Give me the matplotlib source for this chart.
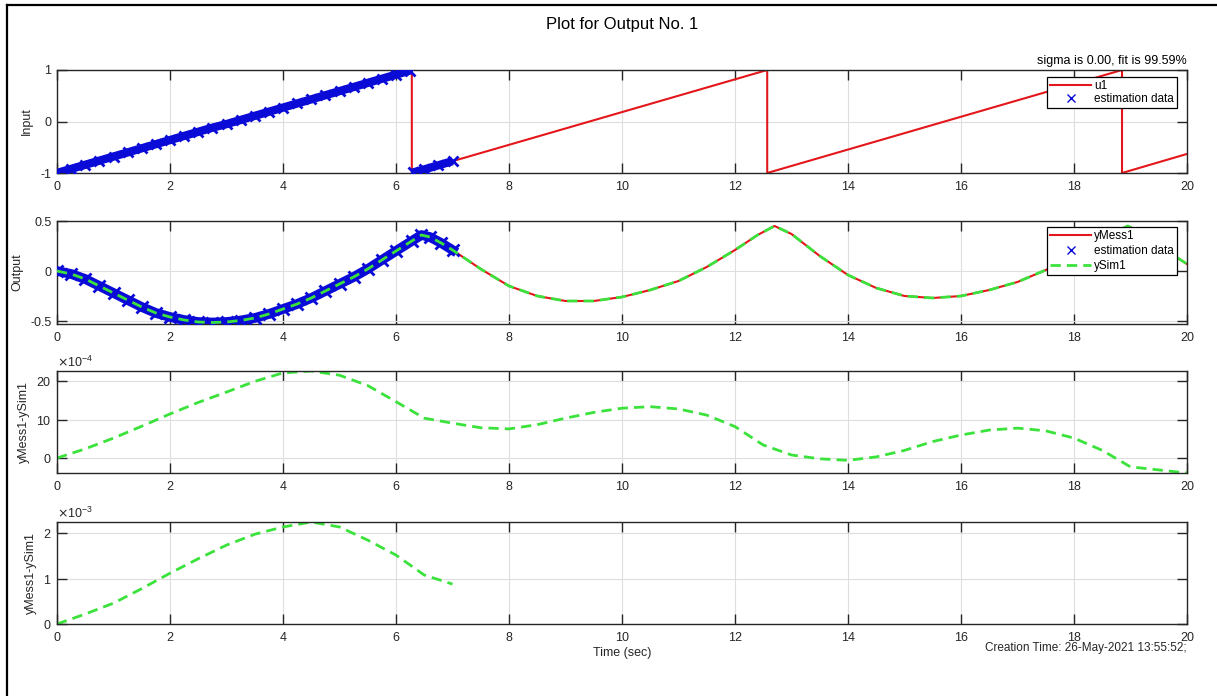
import numpy as np
import matplotlib.pyplot as plt
from matplotlib.lines import Line2D

plt.rcParams['font.family'] = ['Liberation Sans', 'DejaVu Sans']
plt.rcParams['axes.unicode_minus'] = False

# input sawtooth (breakpoints)
inp_t = [0, 6.28, 6.28, 12.57, 12.57, 18.85, 18.85, 20]
inp_u = [-1, 1, -1, 1, -1, 1, -1, -0.63]

# estimation data samples on the input (t <= 7)
est_t = [0, 0.25, 0.5, 0.75, 1, 1.25, 1.5, 1.75, 2, 2.25, 2.5, 2.75, 3, 3.25,
         3.5, 3.75, 4, 4.25, 4.5, 4.75, 5, 5.25, 5.5, 5.75, 6, 6.25,
         6.3, 6.5, 6.75, 7]
est_u = [-1, -0.92, -0.84, -0.76, -0.68, -0.6, -0.52, -0.44, -0.36, -0.28,
         -0.2, -0.12, -0.05, 0.03, 0.11, 0.19, 0.27, 0.35, 0.43, 0.51, 0.59,
         0.67, 0.75, 0.83, 0.91, 0.99, -0.99, -0.93, -0.85, -0.77]

# measured / simulated output
out_t = [0, 0.25, 0.5, 0.75, 1, 1.25, 1.5, 1.75, 2, 2.25, 2.5, 2.75, 3, 3.25,
         3.5, 3.75, 4, 4.25, 4.5, 4.75, 5, 5.25, 5.5, 5.75, 6, 6.28, 6.45,
         6.6, 6.8, 7, 7.5, 8, 8.5, 9, 9.5, 10, 10.5, 11, 11.5, 12, 12.4,
         12.7, 13, 13.5, 14, 14.5, 15, 15.5, 16, 16.5, 17, 17.5, 18, 18.5,
         18.95, 19.3, 19.7, 20]
y_mess = [0.0, -0.03, -0.08, -0.15, -0.22, -0.29, -0.36, -0.42, -0.46, -0.49,
          -0.51, -0.515, -0.51, -0.495, -0.47, -0.43, -0.38, -0.33, -0.27,
          -0.2, -0.13, -0.06, 0.02, 0.11, 0.2, 0.3, 0.36, 0.34, 0.28, 0.21,
          0.02, -0.15, -0.25, -0.3, -0.3, -0.26, -0.19, -0.1, 0.04, 0.21,
          0.36, 0.45, 0.37, 0.15, -0.04, -0.17, -0.25, -0.27, -0.25, -0.19,
          -0.11, 0.01, 0.15, 0.32, 0.45, 0.36, 0.18, 0.07]
y_sim = y_mess

# residuals, full range (x1e-4)
res_t = [0, 0.5, 1, 1.5, 2, 2.5, 3, 3.5, 4, 4.5, 5, 5.5, 6, 6.5, 7, 7.5, 8,
         8.5, 9, 9.5, 10, 10.5, 11, 11.5, 12, 12.5, 13, 13.5, 14, 14.5, 15,
         15.5, 16, 16.5, 17, 17.5, 18, 18.5, 19, 19.5, 20]
res = [0, 2.4, 5.2, 8.3, 11.5, 14.5, 17.2, 20.0, 22.2, 22.7, 21.6, 18.9, 14.7,
       10.4, 9.1, 7.9, 7.6, 8.7, 10.4, 11.9, 13.0, 13.4, 12.8, 11.2, 8.2, 3.4,
       0.8, -0.2, -0.6, 0.3, 2.0, 4.3, 6.0, 7.3, 7.8, 7.1, 5.2, 2.0, -2.3,
       -3.1, -3.9]
res = [r * 1e-4 for r in res]

# residuals, estimation data only (x1e-3)
res_est_t = [0, 0.5, 1, 1.5, 2, 2.5, 3, 3.5, 4, 4.5, 5, 5.5, 6, 6.5, 7]
res_est = [0, 0.22, 0.46, 0.78, 1.12, 1.44, 1.74, 1.98, 2.14, 2.25, 2.14,
           1.85, 1.52, 1.08, 0.88]
res_est = [r * 1e-3 for r in res_est]

xticks = list(range(0, 21, 2))

red = '#e3171b'
blue = '#0b0bd8'
green = '#3be23b'
dark = '#262626'

fig = plt.figure(figsize=(12.17, 6.96), dpi=100)
W, H = 1217, 696

def make_ax(top, bottom):
    ax = fig.add_axes([57 / W, 1 - bottom / H, 1130 / W, (bottom - top) / H])
    ax.set_xlim(0, 20)
    ax.set_xticks(xticks)
    ax.grid(True, color='#dedede', lw=0.8)
    ax.set_axisbelow(True)
    ax.tick_params(direction='in', length=7, width=1, top=True, right=True,
                   labelsize=9, labelcolor=dark, color=dark)
    ax.tick_params(axis='x', pad=6)
    ax.tick_params(axis='y', pad=4)
    for s in ax.spines.values():
        s.set_color(dark)
        s.set_linewidth(1)
    return ax

legend_kw = dict(loc='upper right', fontsize=8.5, frameon=True, fancybox=False,
                 framealpha=1, edgecolor='black', handlelength=3.4,
                 handletextpad=0.3, borderpad=0.25, borderaxespad=0)
dash = (0, (3.7, 2.2))

# panel 1: input
ax1 = make_ax(70, 173)
ax1.plot(inp_t, inp_u, color=red, lw=1.5, zorder=2)
k = int(np.argmin(np.diff(est_u))) + 1
for a, b in [(0, k), (k, len(est_t))]:
    ax1.plot(est_t[a:b], est_u[a:b], color=blue, lw=6, solid_capstyle='butt', zorder=3)
ax1.plot(est_t, est_u, 'x', color=blue, ms=7, mew=2, zorder=3)
ax1.set_ylim(-1, 1)
ax1.set_yticks([-1, 0, 1])
ax1.set_ylabel('Input', fontsize=9, color=dark)
ax1.yaxis.set_label_coords(-0.021, 0.5)
h1 = [Line2D([], [], color=red, lw=1.5),
      Line2D([], [], ls='none', marker='x', color=blue, ms=6, mew=1)]
lg = ax1.legend(h1, ['u1', 'estimation data'], bbox_to_anchor=(0.991, 0.935),
                labelspacing=0.12, **legend_kw)
lg.get_frame().set_linewidth(0.9)

# panel 2: output
ax2 = make_ax(221, 324)
ax2.plot(out_t, y_mess, color=red, lw=1.5, zorder=2)
n_est = sum(1 for t in out_t if t <= 7)
ax2.plot(out_t[:n_est], y_mess[:n_est], color=blue, lw=7, zorder=3)
ax2.plot(out_t[:n_est], y_mess[:n_est], 'x', color=blue, ms=8, mew=2, zorder=3)
ax2.plot(out_t, y_sim, color=green, lw=2, ls=dash, zorder=4)
ax2.set_ylim(-0.53, 0.5)
ax2.set_yticks([-0.5, 0, 0.5])
ax2.set_yticklabels(['-0.5', '0', '0.5'])
ax2.set_ylabel('Output', fontsize=9, color=dark)
ax2.yaxis.set_label_coords(-0.030, 0.5)
h2 = [Line2D([], [], color=red, lw=1.5),
      Line2D([], [], ls='none', marker='x', color=blue, ms=6, mew=1),
      Line2D([], [], color=green, lw=2, ls=dash)]
lg = ax2.legend(h2, ['yMess1', 'estimation data', 'ySim1'],
                bbox_to_anchor=(0.991, 0.94), labelspacing=0.25, **legend_kw)
lg.get_frame().set_linewidth(0.9)

# panel 3: residual full
ax3 = make_ax(371, 473)
ax3.plot(res_t, res, color=green, lw=2, ls=dash)
ax3.set_ylim(-3.9e-4, 22.7e-4)
ax3.set_yticks([0, 1e-3, 2e-3])
ax3.ticklabel_format(axis='y', style='sci', scilimits=(-4, -4), useMathText=True)
ax3.yaxis.get_offset_text().set_fontsize(9)
ax3.yaxis.get_offset_text().set_color(dark)
ax3.set_ylabel('yMess1-ySim1', fontsize=9, color=dark)
ax3.yaxis.set_label_coords(-0.024, 0.5)

# panel 4: residual estimation data
ax4 = make_ax(522, 624)
ax4.plot(res_est_t, res_est, color=green, lw=2, ls=dash)
ax4.set_ylim(0, 2.25e-3)
ax4.set_yticks([0, 1e-3, 2e-3])
ax4.ticklabel_format(axis='y', style='sci', scilimits=(-3, -3), useMathText=True)
ax4.yaxis.get_offset_text().set_fontsize(9)
ax4.yaxis.get_offset_text().set_color(dark)
ax4.set_ylabel('yMess1-ySim1', fontsize=9, color=dark)
ax4.yaxis.set_label_coords(-0.018, 0.5)

fig.text(622 / W, 1 - 25 / H, 'Plot for Output No. 1', ha='center', va='center',
         fontsize=12, color='black')
fig.text(1187 / W, 1 - 61 / H, 'sigma is 0.00, fit is 99.59%', ha='right',
         va='center', fontsize=9, color='black')
fig.text(622 / W, 1 - 653 / H, 'Time (sec)', ha='center', va='center',
         fontsize=9, color=dark)
fig.text(1187 / W, 1 - 648 / H, 'Creation Time: 26-May-2021 13:55:52;',
         ha='right', va='center', fontsize=8.5, color=dark)

# screenshot frame (left and top edges)
fig.add_artist(Line2D([6.5 / W, 6.5 / W], [0, 1 - 4.5 / H], color='black', lw=1.6))
fig.add_artist(Line2D([6.5 / W, 1], [1 - 4.5 / H, 1 - 4.5 / H], color='black', lw=1.6))

fig.savefig('out.png', dpi=100)
